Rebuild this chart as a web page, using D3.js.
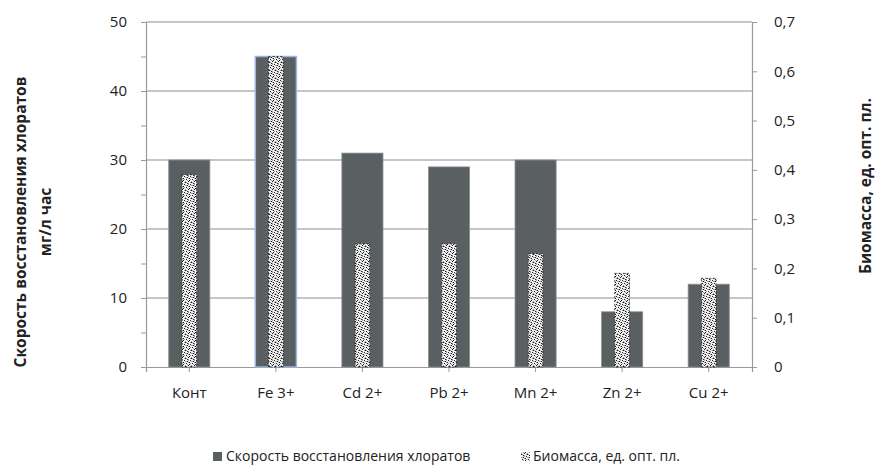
<!DOCTYPE html>
<html>
<head>
<meta charset="utf-8">
<script src="https://cdn.jsdelivr.net/npm/d3@7"></script>
<style>
  body { margin: 0; background: #fff; }
  svg text { font-family: "Open Sans", "Noto Sans", sans-serif; fill: #222; }
</style>
</head>
<body>
<svg id="chart" width="877" height="471"></svg>
<script>
// data
var categories = ['Конт', 'Fe 3+', 'Cd 2+', 'Pb 2+', 'Mn 2+', 'Zn 2+', 'Cu 2+'];
var rateValues = [30, 45, 31, 29, 30, 8, 12];            // мг/л час, left axis
var biomassValues = [0.39, 0.63, 0.25, 0.25, 0.23, 0.19, 0.18]; // right axis
var leftTicks = [0, 5, 10, 15, 20, 25, 30, 35, 40, 45, 50];
var rightTicks = [0, 0.1, 0.2, 0.3, 0.4, 0.5, 0.6, 0.7];
var gridTicks = [10, 20, 30, 40, 50];
var seriesNames = ['Скорость восстановления хлоратов', 'Биомасса, ед. опт. пл.'];

var svg = d3.select('#chart');
var pL = 146, pR = 752, pT = 22, pB = 367;

var x = d3.scaleBand().domain(categories).range([pL, pR]).padding(0);
var y1 = d3.scaleLinear().domain([0, 50]).range([pB, pT]);
var y2 = d3.scaleLinear().domain([0, 0.7]).range([pB, pT]);

// texture for the biomass series
var tile = [
  'wwgw#w',
  'g#wwwg',
  'wwg#ww',
  '#wwwgw',
  'wgw#ww',
  'ww#wwg',
  'gwwwg#',
  'w#gwww'
];
var defs = svg.append('defs');
var pat = defs.append('pattern').attr('id', 'tex')
  .attr('patternUnits', 'userSpaceOnUse')
  .attr('width', 6).attr('height', 8);
var colors = { 'w': '#f2f2f2', 'g': '#9a9a9a', '#': '#1a1a1a' };
tile.forEach(function(row, r) {
  row.split('').forEach(function(c, k) {
    pat.append('rect').attr('x', k).attr('y', r).attr('width', 1).attr('height', 1)
      .attr('fill', colors[c]);
  });
});

// gridlines
svg.append('g').selectAll('line')
  .data(gridTicks)
  .enter().append('line')
  .attr('x1', pL).attr('x2', pR)
  .attr('y1', function(d) { return y1(d); })
  .attr('y2', function(d) { return y1(d); })
  .attr('stroke', '#8e8e8e').attr('stroke-width', 1.2);

// axes
var axL = svg.append('g').attr('transform', 'translate(' + pL + ',0)')
  .call(d3.axisLeft(y1).tickValues(leftTicks).tickSize(5).tickPadding(14)
    .tickFormat(function(d) { return d % 10 === 0 ? d : ''; }));
var axR = svg.append('g').attr('transform', 'translate(' + pR + ',0)')
  .call(d3.axisRight(y2).tickValues(rightTicks).tickSize(5).tickPadding(17)
    .tickFormat(function(d) { return d === 0 ? '0' : d3.format('.1f')(d).replace('.', ','); }));
var axB = svg.append('g').attr('transform', 'translate(0,' + pB + ')')
  .call(d3.axisBottom(x).tickSize(5).tickPadding(15));

[axL, axR, axB].forEach(function(a) {
  a.select('.domain').attr('stroke', '#999').attr('stroke-width', 1.2);
  a.selectAll('.tick line').attr('stroke', '#999');
  a.selectAll('.tick text').style('font-size', '15px').style('font-family', '"Open Sans", sans-serif').attr('fill', '#333');
});

// bars
var bw = x.bandwidth() * 0.475;
var pw = x.bandwidth() * 0.17;
svg.append('g').selectAll('rect')
  .data(rateValues)
  .enter().append('rect')
  .attr('x', function(d, i) { return x(categories[i]) + (x.bandwidth() - bw) / 2; })
  .attr('y', function(d) { return y1(d); })
  .attr('width', bw)
  .attr('height', function(d) { return pB - y1(d); })
  .attr('fill', '#5a6062')
  .attr('stroke', function(d, i) { return i === 1 ? '#9db5de' : '#8a8f91'; })
  .attr('stroke-width', function(d, i) { return i === 1 ? 1.5 : 0.8; });

svg.append('g').selectAll('rect')
  .data(biomassValues)
  .enter().append('rect')
  .attr('x', function(d, i) { return x(categories[i]) + (x.bandwidth() - pw) / 2; })
  .attr('y', function(d) { return y2(d); })
  .attr('width', pw)
  .attr('height', function(d) { return pB - y2(d); })
  .attr('fill', 'url(#tex)')
  .attr('stroke', '#222').attr('stroke-width', 0.8)
  .attr('stroke-dasharray', '2,2');

// axis titles
var lt = svg.append('text')
  .attr('transform', 'translate(26,222) rotate(-90)')
  .attr('text-anchor', 'middle')
  .style('font-size', '15.5px').style('font-weight', 'bold');
lt.append('tspan').attr('x', 0).attr('dy', 0).text('Скорость восстановления хлоратов');
lt.append('tspan').attr('x', 0).attr('dy', 25).text('мг/л час');

svg.append('text')
  .attr('transform', 'translate(871,186) rotate(-90)')
  .attr('text-anchor', 'middle')
  .style('font-size', '15.5px').style('font-weight', 'bold')
  .text('Биомасса, ед. опт. пл.');

// legend
var lg = svg.append('g');
lg.append('rect').attr('x', 213).attr('y', 452).attr('width', 9).attr('height', 9).attr('fill', '#5a6062');
lg.append('text').attr('x', 226).attr('y', 461).style('font-size', '14px').text(seriesNames[0]);
lg.append('rect').attr('x', 521).attr('y', 452).attr('width', 9).attr('height', 9).attr('fill', 'url(#tex)');
lg.append('text').attr('x', 533).attr('y', 461).style('font-size', '14px').text(seriesNames[1]);
</script>
</body>
</html>
